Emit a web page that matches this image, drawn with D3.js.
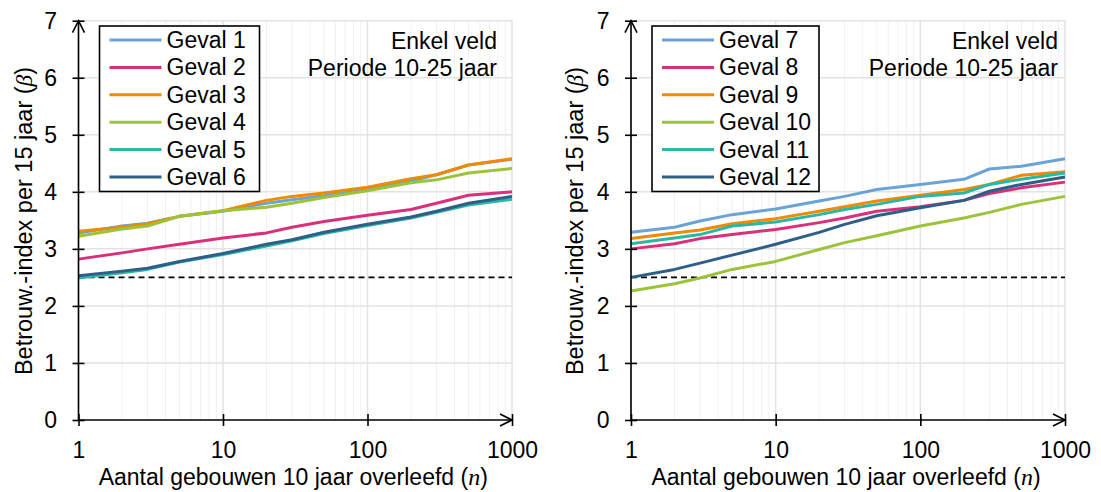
<!DOCTYPE html>
<html>
<head>
<meta charset="utf-8">
<script src="https://cdn.jsdelivr.net/npm/d3@7"></script>
<style>
  html, body { margin: 0; padding: 0; background: #fff; }
  svg { display: block; font-family: "Liberation Sans", Arial, sans-serif; }
</style>
</head>
<body>
<svg id="chart" width="1101" height="492"></svg>
<script>
// Number of buildings surviving 10 years (log axis)
const nValues = [1, 2, 3, 5, 10, 20, 30, 50, 100, 200, 300, 500, 1000];

// Reliability index per 15 years, left panel
const geval1 = [3.28, 3.40, 3.45, 3.57, 3.66, 3.80, 3.86, 3.93, 4.05, 4.19, 4.30, 4.47, 4.57];
const geval2 = [2.82, 2.93, 3.00, 3.08, 3.19, 3.28, 3.38, 3.48, 3.59, 3.69, 3.80, 3.94, 4.00];
const geval3 = [3.31, 3.38, 3.44, 3.57, 3.67, 3.85, 3.92, 3.98, 4.08, 4.23, 4.30, 4.47, 4.58];
const geval4 = [3.22, 3.35, 3.40, 3.57, 3.67, 3.73, 3.80, 3.90, 4.02, 4.16, 4.21, 4.33, 4.41];
const geval5 = [2.49, 2.58, 2.64, 2.77, 2.90, 3.05, 3.14, 3.27, 3.41, 3.54, 3.64, 3.77, 3.87];
const geval6 = [2.53, 2.61, 2.66, 2.78, 2.92, 3.08, 3.16, 3.29, 3.43, 3.56, 3.66, 3.80, 3.92];

// Reliability index per 15 years, right panel
const geval7  = [3.29, 3.38, 3.49, 3.60, 3.70, 3.84, 3.92, 4.04, 4.13, 4.22, 4.40, 4.45, 4.58];
const geval8  = [3.00, 3.09, 3.18, 3.25, 3.34, 3.46, 3.54, 3.66, 3.74, 3.85, 3.97, 4.07, 4.17];
const geval9  = [3.18, 3.28, 3.33, 3.44, 3.53, 3.66, 3.74, 3.84, 3.94, 4.04, 4.13, 4.29, 4.35];
const geval10 = [2.26, 2.39, 2.49, 2.64, 2.78, 2.99, 3.11, 3.23, 3.40, 3.54, 3.64, 3.78, 3.92];
const geval11 = [3.09, 3.19, 3.25, 3.40, 3.47, 3.60, 3.69, 3.78, 3.92, 3.98, 4.13, 4.22, 4.33];
const geval12 = [2.50, 2.64, 2.75, 2.89, 3.08, 3.29, 3.43, 3.58, 3.72, 3.85, 4.01, 4.13, 4.26];

const leftNames  = ["Geval 1", "Geval 2", "Geval 3", "Geval 4", "Geval 5", "Geval 6"];
const rightNames = ["Geval 7", "Geval 8", "Geval 9", "Geval 10", "Geval 11", "Geval 12"];

const xTickValues = [1, 10, 100, 1000];
const yTickValues = [0, 1, 2, 3, 4, 5, 6, 7];
const targetBeta = 2.5;

const annotationLines = ["Enkel veld", "Periode 10-25 jaar"];
const xTitle = "Aantal gebouwen 10 jaar overleefd (";
const xTitleVar = "n";
const yTitle = "Betrouw.-index per 15 jaar (";
const yTitleVar = "\u03B2";

const palette = ["#6aa3d5", "#db2f7b", "#f08a00", "#9dc33b", "#2cb7a2", "#2d5f88"];

const svg = d3.select("#chart");
const FONT = 23;
const TICK_FONT = 23;

function drawPanel(opts) {
  const { left, right, names, series, legendWidth, noteGap, yTitleGap } = opts;
  const top = 20.7, bottom = 420;
  const x = d3.scaleLog().domain([1, 1000]).range([left, right]);
  const y = d3.scaleLinear().domain([0, 7]).range([bottom, top]);
  const g = svg.append("g");

  // minor vertical grid (2..9 per decade)
  const minor = [];
  for (let d = 1; d < 1000; d *= 10) for (let k = 2; k <= 9; k++) minor.push(d * k);
  g.append("g").selectAll("line").data(minor).join("line")
    .attr("x1", d => x(d)).attr("x2", d => x(d))
    .attr("y1", top).attr("y2", bottom)
    .attr("stroke", "#f1f1f1").attr("stroke-width", 1);

  // major grid
  g.append("g").selectAll("line").data(xTickValues).join("line")
    .attr("x1", d => x(d)).attr("x2", d => x(d))
    .attr("y1", top).attr("y2", bottom)
    .attr("stroke", "#e3e3e3").attr("stroke-width", 1.5);
  g.append("g").selectAll("line").data(yTickValues.slice(1)).join("line")
    .attr("x1", left).attr("x2", right)
    .attr("y1", d => y(d)).attr("y2", d => y(d))
    .attr("stroke", "#e3e3e3").attr("stroke-width", 1.5);

  // target line
  g.append("line")
    .attr("x1", left).attr("x2", right)
    .attr("y1", y(targetBeta)).attr("y2", y(targetBeta))
    .attr("stroke", "#000").attr("stroke-width", 1.6)
    .attr("stroke-dasharray", "6,4");

  // series
  const line = d3.line().x((d, i) => x(nValues[i])).y(d => y(d));
  series.forEach((vals, i) => {
    g.append("path").datum(vals)
      .attr("d", line)
      .attr("fill", "none")
      .attr("stroke", palette[i])
      .attr("stroke-width", 3)
      .attr("stroke-linejoin", "round");
  });

  // axes
  const yAxis = d3.axisLeft(y).tickValues(yTickValues).tickFormat(d3.format("d")).tickSize(6).tickPadding(15.5);
  const yg = g.append("g").attr("transform", `translate(${left},0)`).call(yAxis);
  const xAxis = d3.axisBottom(x).tickValues(xTickValues).tickFormat(d3.format("d")).tickSize(6).tickPadding(16);
  const xg = g.append("g").attr("transform", `translate(0,${bottom})`).call(xAxis);
  [yg, xg].forEach(a => {
    a.select(".domain").remove();
    a.selectAll(".tick line").attr("stroke", "#000").attr("stroke-width", 1.6);
    a.selectAll(".tick text").attr("fill", "#000")
      .style("font-size", TICK_FONT + "px").style("font-family", "'Liberation Sans', Arial, sans-serif");
  });
  yg.selectAll(".tick line").attr("x1", 6);
  xg.selectAll(".tick line").attr("y1", -6);

  // axis lines with open arrowheads
  const ax = g.append("g").attr("stroke", "#000").attr("stroke-width", 1.6).attr("fill", "none");
  ax.append("line").attr("x1", left).attr("x2", left).attr("y1", bottom).attr("y2", top);
  ax.append("path").attr("d", `M${left - 6},${top + 12}L${left},${top}L${left + 6},${top + 12}`);
  ax.append("line").attr("x1", left).attr("x2", right).attr("y1", bottom).attr("y2", bottom);
  ax.append("path").attr("d", `M${right - 12},${bottom - 6}L${right},${bottom}L${right - 12},${bottom + 6}`);

  // axis titles
  const xt = g.append("text")
    .attr("x", (left + right) / 2 - 2).attr("y", 485)
    .attr("text-anchor", "middle").style("font-size", FONT + "px");
  xt.append("tspan").text(xTitle);
  xt.append("tspan").text(xTitleVar).style("font-family", "'Liberation Serif', serif").style("font-style", "italic").style("font-size", "24px");
  xt.append("tspan").text(")");

  const yt = g.append("text")
    .attr("transform", `translate(${left - yTitleGap},${221}) rotate(-90)`)
    .attr("text-anchor", "middle").style("font-size", "23.5px");
  yt.append("tspan").text(yTitle);
  yt.append("tspan").text(yTitleVar).style("font-family", "'Liberation Serif', serif").style("font-style", "italic");
  yt.append("tspan").text(")");

  // annotation
  annotationLines.forEach((t, i) => {
    g.append("text")
      .attr("x", right - noteGap).attr("y", 49 + i * 26.5)
      .attr("text-anchor", "end").style("font-size", FONT + "px")
      .text(t);
  });

  // legend
  const lx = left + 21, ly = 26;
  const rowH = 27.4;
  const leg = g.append("g");
  leg.append("rect")
    .attr("x", lx).attr("y", ly)
    .attr("width", legendWidth).attr("height", 165.5)
    .attr("fill", "#fff").attr("stroke", "#000").attr("stroke-width", 1.6);
  names.forEach((name, i) => {
    const cy = ly + 14 + i * rowH;
    leg.append("line")
      .attr("x1", lx + 10).attr("x2", lx + 62)
      .attr("y1", cy).attr("y2", cy)
      .attr("stroke", palette[i]).attr("stroke-width", 3);
    leg.append("text")
      .attr("x", lx + 67).attr("y", cy + 8)
      .style("font-size", FONT + "px")
      .text(name);
  });
}

drawPanel({ left: 78.5, right: 512, names: leftNames,
  series: [geval1, geval2, geval3, geval4, geval5, geval6],
  legendWidth: 160, noteGap: 15, yTitleGap: 46.5 });
drawPanel({ left: 631, right: 1065, names: rightNames,
  series: [geval7, geval8, geval9, geval10, geval11, geval12],
  legendWidth: 167, noteGap: 7, yTitleGap: 48.5 });
</script>
</body>
</html>
